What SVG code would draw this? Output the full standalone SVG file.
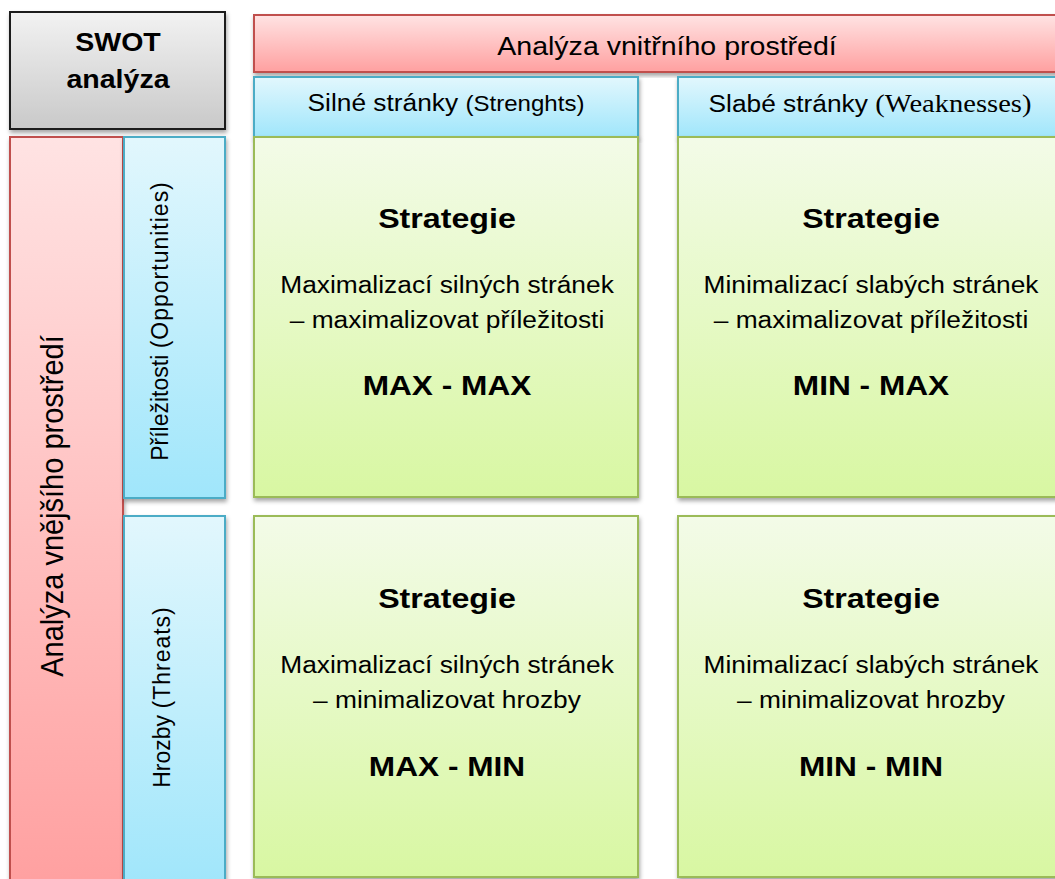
<svg xmlns="http://www.w3.org/2000/svg" width="1055" height="879" viewBox="0 0 1055 879">
  <defs>
    <linearGradient id="gGrey" x1="0" y1="0" x2="0" y2="1">
      <stop offset="0" stop-color="#f2f2f2"/>
      <stop offset="1" stop-color="#c9c9c9"/>
    </linearGradient>
    <linearGradient id="gRed" x1="0" y1="0" x2="0" y2="1">
      <stop offset="0" stop-color="#ffe3e3"/>
      <stop offset="1" stop-color="#ffa0a0"/>
    </linearGradient>
    <linearGradient id="gBlue" x1="0" y1="0" x2="0" y2="1">
      <stop offset="0" stop-color="#e2f7fd"/>
      <stop offset="1" stop-color="#a0e6fb"/>
    </linearGradient>
    <linearGradient id="gGreen" x1="0" y1="0" x2="0" y2="1">
      <stop offset="0" stop-color="#f3fbe8"/>
      <stop offset="1" stop-color="#d8f7a2"/>
    </linearGradient>
    <filter id="shadow" x="-5%" y="-5%" width="115%" height="115%">
      <feDropShadow dx="1" dy="3" stdDeviation="2" flood-color="#000" flood-opacity="0.35"/>
    </filter>
    <style>
      .grey { fill: url(#gGrey); stroke: #1a1a1a; stroke-width: 2; filter: url(#shadow); }
      .red { fill: url(#gRed); stroke: #c0504d; stroke-width: 2; filter: url(#shadow); }
      .blue { fill: url(#gBlue); stroke: #4bacc6; stroke-width: 2; filter: url(#shadow); }
      .green { fill: url(#gGreen); stroke: #9bbb59; stroke-width: 2; filter: url(#shadow); }
      text, tspan { font-family: "Liberation Sans", Arial, sans-serif; fill: #000; }
      text { text-anchor: middle; }
      .title { font-size: 25.5px; font-weight: bold; }
      .hdr { font-size: 25.5px; }
      .vhdr { font-size: 29px; }
      .sub { font-size: 23.5px; }
      .small { font-size: 21.5px; }
      tspan.serif { font-family: "Liberation Serif", "Times New Roman", serif; font-size: 25.5px; }
      .vsub { font-size: 23px; }
      .vsmall { font-size: 23px; letter-spacing: 1px; }
      .strat { font-size: 28.5px; font-weight: bold; }
      .body { font-size: 23.3px; }
      .code { font-size: 28px; font-weight: bold; }
    </style>
  </defs>

  <g id="swot-title">
    <rect class="grey" x="10" y="12" width="215" height="117"/>
    <g transform="translate(118 0) scale(1.12 1)">
      <text class="title" x="0" y="51">SWOT</text>
      <text class="title" x="0" y="88">analýza</text>
    </g>
  </g>

  <g id="internal">
    <rect class="red" x="254" y="15" width="810" height="57"/>
    <text class="hdr" transform="translate(667 55) scale(1.12 1)">Analýza vnitřního prostředí</text>
  </g>

  <g id="strengths">
    <rect class="blue" x="254" y="77" width="384" height="60"/>
    <text transform="translate(446 111) scale(1.12 1)"><tspan class="sub">Silné stránky </tspan><tspan class="small">(Strenghts)</tspan></text>
  </g>

  <g id="weaknesses">
    <rect class="blue" x="678" y="77" width="386" height="60"/>
    <text transform="translate(870 112) scale(1.12 1)"><tspan class="sub">Slabé stránky </tspan><tspan class="serif">(Weaknesses)</tspan></text>
  </g>

  <g id="external">
    <rect class="red" x="10" y="137" width="113" height="750"/>
    <text class="vhdr" transform="translate(63 506) scale(1.05 1) rotate(-90)">Analýza vnějšího prostředí</text>
  </g>

  <g id="opportunities">
    <rect class="blue" x="124" y="137" width="101" height="361"/>
    <text transform="translate(168 321) scale(1.05 1) rotate(-90)"><tspan class="vsub">Příležitosti </tspan><tspan class="vsmall">(Opportunities)</tspan></text>
  </g>

  <g id="threats">
    <rect class="blue" x="124" y="516" width="101" height="370"/>
    <text transform="translate(170 697) scale(1.05 1) rotate(-90)"><tspan class="vsub">Hrozby </tspan><tspan class="vsmall">(Threats)</tspan></text>
  </g>

  <g id="so">
    <rect class="green" x="254" y="137" width="384" height="360"/>
    <g transform="translate(447 0) scale(1.13 1)">
      <text class="strat" x="0" y="228">Strategie</text>
      <text class="body" x="0" y="293">Maximalizací silných stránek</text>
      <text class="body" x="0" y="328">– maximalizovat příležitosti</text>
      <text class="code" x="0" y="395">MAX - MAX</text>
    </g>
  </g>

  <g id="wo">
    <rect class="green" x="678" y="137" width="386" height="360"/>
    <g transform="translate(871 0) scale(1.13 1)">
      <text class="strat" x="0" y="228">Strategie</text>
      <text class="body" x="0" y="293">Minimalizací slabých stránek</text>
      <text class="body" x="0" y="328">– maximalizovat příležitosti</text>
      <text class="code" x="0" y="395">MIN - MAX</text>
    </g>
  </g>

  <g id="st">
    <rect class="green" x="254" y="516" width="384" height="361"/>
    <g transform="translate(447 0) scale(1.13 1)">
      <text class="strat" x="0" y="608">Strategie</text>
      <text class="body" x="0" y="673">Maximalizací silných stránek</text>
      <text class="body" x="0" y="708">– minimalizovat hrozby</text>
      <text class="code" x="0" y="776">MAX - MIN</text>
    </g>
  </g>

  <g id="wt">
    <rect class="green" x="678" y="516" width="386" height="361"/>
    <g transform="translate(871 0) scale(1.13 1)">
      <text class="strat" x="0" y="608">Strategie</text>
      <text class="body" x="0" y="673">Minimalizací slabých stránek</text>
      <text class="body" x="0" y="708">– minimalizovat hrozby</text>
      <text class="code" x="0" y="776">MIN - MIN</text>
    </g>
  </g>

  <g id="connectors"/>
</svg>
